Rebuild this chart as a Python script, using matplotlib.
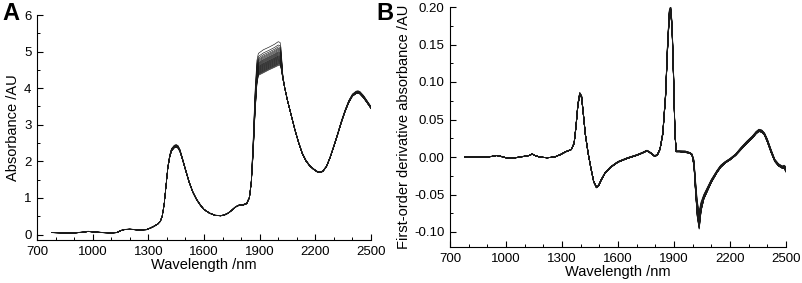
import numpy as np
import matplotlib
matplotlib.use("Agg")
import matplotlib.pyplot as plt
from matplotlib.ticker import MultipleLocator

plt.rcParams['font.family'] = ['Liberation Sans', 'DejaVu Sans']

# ---------------- Panel A: raw absorbance spectra ----------------
wl_a = [780, 850, 900, 950, 975, 1000, 1050, 1100, 1130, 1150, 1170, 1200, 1250, 1290,
        1310, 1330, 1350, 1365, 1375, 1385, 1395, 1405, 1415, 1425, 1440, 1450, 1460,
        1470, 1480, 1490, 1500, 1520, 1540, 1560, 1580, 1600, 1630, 1660, 1690, 1710,
        1730, 1750, 1770, 1790, 1810, 1830, 1845, 1855, 1865, 1875, 1885, 1893, 1920,
        1950, 1980, 2000, 2010, 2015, 2025, 2035, 2050, 2070, 2090, 2110, 2130, 2150,
        2170, 2190, 2210, 2225, 2240, 2260, 2280, 2300, 2320, 2340, 2360, 2380, 2400,
        2420, 2430, 2440, 2460, 2480, 2500]
# lowest sample
abs_low = [0.05, 0.04, 0.04, 0.06, 0.08, 0.07, 0.05, 0.04, 0.05, 0.10, 0.13, 0.14, 0.12, 0.13,
           0.17, 0.22, 0.28, 0.36, 0.50, 0.80, 1.30, 1.80, 2.10, 2.28, 2.37, 2.39, 2.36,
           2.27, 2.11, 1.94, 1.76, 1.42, 1.15, 0.95, 0.80, 0.68, 0.58, 0.52, 0.51, 0.53,
           0.58, 0.66, 0.75, 0.80, 0.80, 0.84, 1.00, 1.40, 2.20, 3.30, 4.10, 4.35, 4.42,
           4.50, 4.57, 4.62, 4.63, 4.55, 4.25, 4.00, 3.65, 3.25, 2.85, 2.50, 2.20, 2.00,
           1.87, 1.78, 1.71, 1.69, 1.72, 1.85, 2.10, 2.40, 2.72, 3.05, 3.35, 3.60, 3.78,
           3.85, 3.86, 3.84, 3.73, 3.59, 3.44]
# highest sample
abs_high = [0.06, 0.05, 0.05, 0.07, 0.09, 0.08, 0.06, 0.05, 0.06, 0.11, 0.14, 0.15, 0.13, 0.14,
            0.18, 0.23, 0.29, 0.37, 0.52, 0.83, 1.34, 1.86, 2.17, 2.35, 2.44, 2.46, 2.43,
            2.33, 2.16, 1.98, 1.80, 1.45, 1.17, 0.97, 0.82, 0.69, 0.59, 0.53, 0.52, 0.54,
            0.59, 0.67, 0.76, 0.81, 0.82, 0.86, 1.03, 1.50, 2.60, 3.90, 4.75, 4.95, 5.05,
            5.12, 5.20, 5.27, 5.25, 5.10, 4.35, 4.03, 3.68, 3.28, 2.88, 2.53, 2.23, 2.03,
            1.89, 1.80, 1.73, 1.71, 1.74, 1.87, 2.13, 2.44, 2.76, 3.10, 3.40, 3.66, 3.84,
            3.92, 3.93, 3.91, 3.80, 3.65, 3.50]

# plateau height at 2000 nm of each sample
sample_levels = [4.62, 4.64, 4.66, 4.67, 4.69, 4.70, 4.72, 4.73, 4.75, 4.76, 4.78, 4.79,
                 4.81, 4.82, 4.84, 4.85, 4.87, 4.88, 4.90, 4.92, 4.94, 4.96, 4.98, 5.00,
                 5.03, 5.06, 5.09, 5.13, 5.18, 5.27]

# ---------------- Panel B: first-order derivative ----------------
wl_b = [780, 850, 900, 930, 950, 970, 1000, 1050, 1100, 1125, 1140, 1155, 1180, 1220, 1260,
        1290, 1320, 1350, 1365, 1375, 1385, 1395, 1405, 1415, 1425, 1440, 1455, 1470, 1485,
        1495, 1510, 1530, 1560, 1600, 1650, 1700, 1730, 1755, 1775, 1795, 1810, 1825, 1840,
        1855, 1865, 1875, 1882, 1890, 1898, 1905, 1912, 1930, 1960, 1985, 1997, 2007, 2015,
        2025, 2035, 2045, 2060, 2080, 2100, 2130, 2150, 2175, 2200, 2230, 2260, 2290, 2320,
        2340, 2355, 2370, 2385, 2400, 2420, 2440, 2460, 2480, 2490, 2500]
der_low = [0.000, 0.000, 0.000, 0.001, 0.002, 0.001, -0.001, -0.001, 0.001, 0.002, 0.004,
           0.002, 0.000, -0.001, 0.000, 0.003, 0.007, 0.010, 0.018, 0.040, 0.068, 0.083,
           0.079, 0.055, 0.030, 0.005, -0.015, -0.033, -0.041, -0.039, -0.031, -0.022,
           -0.014, -0.007, -0.002, 0.002, 0.005, 0.008, 0.005, 0.001, 0.002, 0.010, 0.030,
           0.080, 0.140, 0.188, 0.195, 0.168, 0.100, 0.030, 0.007, 0.007, 0.006, 0.005,
           0.002, -0.012, -0.045, -0.080, -0.096, -0.072, -0.056, -0.045, -0.034, -0.021,
           -0.014, -0.008, -0.004, 0.002, 0.010, 0.018, 0.025, 0.031, 0.034, 0.033, 0.029,
           0.020, 0.006, -0.006, -0.012, -0.015, -0.015, -0.020]
der_high = [0.000, 0.000, 0.000, 0.001, 0.002, 0.001, -0.001, -0.001, 0.001, 0.002, 0.004,
            0.002, 0.000, -0.001, 0.000, 0.003, 0.007, 0.010, 0.019, 0.042, 0.071, 0.086,
            0.082, 0.057, 0.031, 0.005, -0.015, -0.033, -0.040, -0.038, -0.030, -0.021,
            -0.013, -0.006, -0.001, 0.003, 0.006, 0.009, 0.006, 0.002, 0.003, 0.011, 0.033,
            0.086, 0.150, 0.196, 0.201, 0.178, 0.110, 0.034, 0.008, 0.008, 0.008, 0.006,
            0.004, -0.004, -0.030, -0.060, -0.072, -0.060, -0.050, -0.040, -0.030, -0.018,
            -0.011, -0.006, -0.002, 0.004, 0.013, 0.021, 0.028, 0.034, 0.037, 0.036, 0.032,
            0.024, 0.010, -0.003, -0.009, -0.012, -0.011, -0.013]

xticks = [700, 1000, 1300, 1600, 1900, 2200, 2500]

fig = plt.figure(figsize=(8.03, 2.83), dpi=100)
axA = fig.add_axes([37 / 803, 1 - 240 / 283, 334 / 803, 225 / 283])
axB = fig.add_axes([450 / 803, 1 - 247 / 283, 336 / 803, 240 / 283])

lo_a, hi_a = np.array(abs_low), np.array(abs_high)
lo_b, hi_b = np.array(der_low), np.array(der_high)
span = sample_levels[-1] - sample_levels[0]
for lev in sample_levels:
    f = (lev - sample_levels[0]) / span
    axA.plot(wl_a, lo_a + f * (hi_a - lo_a), color='#1a1a1a', lw=0.45)
    axB.plot(wl_b, lo_b + f * (hi_b - lo_b), color='#1a1a1a', lw=0.6)

for ax in (axA, axB):
    ax.set_xlim(700, 2500)
    ax.set_xticks(xticks)
    ax.xaxis.set_minor_locator(MultipleLocator(100))
    for s in ('top', 'right'):
        ax.spines[s].set_visible(False)
    for s in ('left', 'bottom'):
        ax.spines[s].set_linewidth(0.8)
    ax.tick_params(which='major', direction='in', length=4, width=0.8, labelsize=9.5, pad=4)
    ax.tick_params(which='minor', direction='in', length=2.2, width=0.7)
    ax.set_xlabel('Wavelength /nm', fontsize=10.5, labelpad=0.5)

axA.set_ylim(-0.15, 6)
axA.set_yticks([0, 1, 2, 3, 4, 5, 6])
axA.yaxis.set_minor_locator(MultipleLocator(0.5))
axA.set_ylabel('Absorbance /AU', fontsize=10.5, labelpad=3)

axB.set_ylim(-0.12, 0.20)
axB.set_yticks([-0.10, -0.05, 0.00, 0.05, 0.10, 0.15, 0.20])
axB.set_yticklabels(['-0.10', '-0.05', '0.00', '0.05', '0.10', '0.15', '0.20'])
axB.yaxis.set_minor_locator(MultipleLocator(0.025))
axB.set_ylabel('First-order derivative absorbance /AU', fontsize=10.5, labelpad=2)

fig.text(2 / 803, 1 - 2 / 283, 'A', fontsize=17, fontweight='bold', ha='left', va='top')
fig.text(376 / 803, 1 - 2 / 283, 'B', fontsize=17, fontweight='bold', ha='left', va='top')

fig.savefig('out.png', dpi=100)
